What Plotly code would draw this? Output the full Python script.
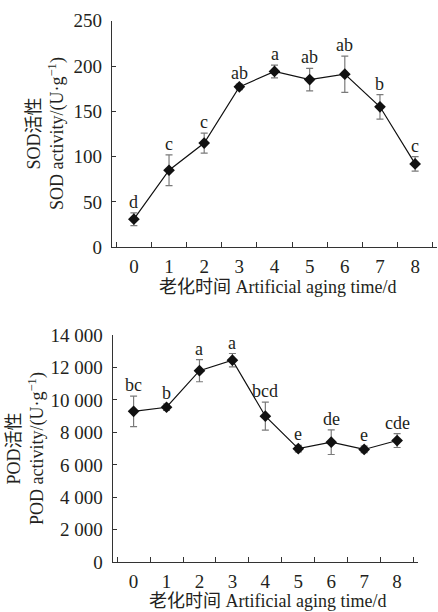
import plotly.graph_objects as go

days = ["0", "1", "2", "3", "4", "5", "6", "7", "8"]

sod_mean = [31, 85, 115, 177, 194, 185, 191, 155, 92]
sod_err = [7, 17, 11, 3, 7, 12.5, 20, 13.5, 8]
sod_letters = ["d", "c", "c", "ab", "a", "ab", "ab", "b", "c"]
sod_ticks = [0, 50, 100, 150, 200, 250]
sod_ticktext = ["0", "50", "100", "150", "200", "250"]

pod_mean = [9300, 9550, 11800, 12450, 9000, 7000, 7400, 6950, 7500]
pod_err = [940, 200, 680, 410, 860, 200, 760, 200, 430]
pod_letters = ["bc", "b", "a", "a", "bcd", "e", "de", "e", "cde"]
pod_ticks = [0, 2000, 4000, 6000, 8000, 10000, 12000, 14000]
pod_ticktext = ["0", "2 000", "4 000", "6 000", "8 000", "10 000", "12 000", "14 000"]

FONT = "Liberation Serif, Noto Sans CJK SC"
TXT = "#231f20"
W, H = 438, 612

fig = go.Figure()

def add_series(mean, err, xa, ya):
    fig.add_trace(go.Scatter(
        x=days, y=mean, xaxis=xa, yaxis=ya, mode="lines+markers",
        line=dict(color="#111111", width=1.2),
        marker=dict(symbol="diamond", size=9, color="#111111"),
        error_y=dict(type="data", array=err, visible=True, color="#7a7a7a",
                     thickness=1.2, width=3.5),
        showlegend=False, hoverinfo="skip"))

add_series(sod_mean, sod_err, "x", "y")
add_series(pod_mean, pod_err, "x2", "y2")

annos = []
for d, m, e, t in zip(days, sod_mean, sod_err, sod_letters):
    annos.append(dict(x=d, y=m + e, xref="x", yref="y", text=t, showarrow=False,
                      yanchor="bottom", yshift=-1, font=dict(family=FONT, size=18, color=TXT)))
for d, m, e, t in zip(days, pod_mean, pod_err, pod_letters):
    annos.append(dict(x=d, y=m + e, xref="x2", yref="y2", text=t, showarrow=False,
                      yanchor="bottom", yshift=-1, font=dict(family=FONT, size=18, color=TXT)))

xtitle = "老化时间 Artificial aging time/d"
annos += [
    dict(x=277 / W, y=1 - 286.5 / H, xref="paper", yref="paper", text=xtitle, showarrow=False,
         xanchor="center", yanchor="middle", font=dict(family=FONT, size=18, color=TXT)),
    dict(x=267 / W, y=1 - 601 / H, xref="paper", yref="paper", text=xtitle, showarrow=False,
         xanchor="center", yanchor="middle", font=dict(family=FONT, size=18, color=TXT)),
    dict(x=46 / W, y=1 - 134 / H, xref="paper", yref="paper", textangle=-90,
         text="SOD活性<br>SOD activity/(U·g<sup>−1</sup>)", showarrow=False,
         xanchor="center", yanchor="middle", font=dict(family=FONT, size=18, color=TXT)),
    dict(x=26 / W, y=1 - 449 / H, xref="paper", yref="paper", textangle=-90,
         text="POD活性<br>POD activity/(U·g<sup>−1</sup>)", showarrow=False,
         xanchor="center", yanchor="middle", font=dict(family=FONT, size=18, color=TXT)),
]

xaxis_common = dict(type="category", tickson="boundaries", ticks="inside", ticklen=5,
                    tickcolor="#333", tickwidth=1.2, showline=True, linecolor="#333",
                    linewidth=1.2, showgrid=False, zeroline=False, automargin=False,
                    tickfont=dict(family=FONT, size=19, color=TXT), ticklabelstandoff=2,
                    fixedrange=True)
yaxis_common = dict(ticks="inside", ticklen=4, tickcolor="#333", tickwidth=1.2,
                    showline=True, linecolor="#333", linewidth=1.2, showgrid=False,
                    zeroline=False, automargin=False,
                    tickfont=dict(family=FONT, size=19, color=TXT),
                    ticklabelstandoff=5, fixedrange=True)

fig.update_layout(
    width=W, height=H, margin=dict(l=0, r=0, t=0, b=0),
    paper_bgcolor="white", plot_bgcolor="white",
    font=dict(family=FONT, color=TXT),
    xaxis=dict(domain=[112 / W, 437 / W], anchor="y", **xaxis_common),
    yaxis=dict(domain=[1 - 247.3 / H, 1 - 20.7 / H], anchor="x", range=[0, 250],
               tickvals=sod_ticks, ticktext=sod_ticktext, **yaxis_common),
    xaxis2=dict(domain=[112.7 / W, 418 / W], anchor="y2", **xaxis_common),
    yaxis2=dict(domain=[1 - 562.3 / H, 1 - 335 / H], anchor="x2", range=[0, 14000],
                tickvals=pod_ticks, ticktext=pod_ticktext, **yaxis_common),
    annotations=annos,
)

fig.write_html("out.html", config={"displayModeBar": False},
               post_script="document.body.style.margin='0';document.body.style.overflow='hidden';")
